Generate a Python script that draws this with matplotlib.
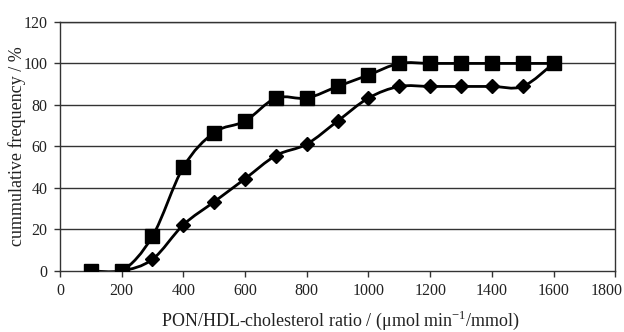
import numpy as np
import matplotlib.pyplot as plt
import matplotlib.transforms as mtransforms
from matplotlib.path import Path
from matplotlib.patches import PathPatch

plt.rcParams['font.family'] = ['Liberation Serif', 'DejaVu Serif']
plt.rcParams['mathtext.fontset'] = 'custom'
plt.rcParams['mathtext.rm'] = 'Liberation Serif'

ratio = [100, 200, 300, 400, 500, 600, 700, 800, 900, 1000, 1100, 1200, 1300, 1400, 1500, 1600]
freq_square = [0, 0, 16.7, 50, 66.7, 72.2, 83.3, 83.3, 88.9, 94.4, 100, 100, 100, 100, 100, 100]
freq_diamond = [0, 0, 5.6, 22.2, 33.3, 44.4, 55.6, 61.1, 72.2, 83.3, 88.9, 88.9, 88.9, 88.9, 88.9, 100]

xticks = np.arange(0, 1801, 200)
yticks = np.arange(0, 121, 20)


def smooth_path(x, y):
    # excel-like smoothed line: cubic bezier through the points
    p = np.column_stack([x, y]).astype(float)
    n = len(p)
    verts = [p[0]]
    codes = [Path.MOVETO]
    for i in range(n - 1):
        p0 = p[i - 1] if i > 0 else p[i]
        p3 = p[i + 2] if i + 2 < n else p[i + 1]
        c1 = p[i] + (p[i + 1] - p0) / 6.0
        c2 = p[i + 1] - (p3 - p[i]) / 6.0
        verts += [c1, c2, p[i + 1]]
        codes += [Path.CURVE4] * 3
    return Path(verts, codes)


fig = plt.figure(figsize=(6.24, 3.32), dpi=100)
ax = fig.add_axes([0.096, 0.184, 0.89, 0.75])

for yv in yticks[1:]:
    ax.axhline(yv, color='#333333', lw=1.0, zorder=1)

for fy, mk, ms in [(freq_square, 's', 10), (freq_diamond, 'D', 7.5)]:
    ax.add_patch(PathPatch(smooth_path(ratio, fy), fill=False, ec='black', lw=2.0, zorder=2))
    ax.plot(ratio, fy, ls='none', marker=mk, ms=ms, color='black', zorder=3)

ax.set_xlim(0, 1800)
ax.set_ylim(0, 120)
ax.set_xticks(xticks)
ax.set_yticks(yticks)
ax.tick_params(direction='out', length=4, width=1, labelsize=11.5, colors='#333333', labelcolor='#222222', pad=5)
for s in ax.spines.values():
    s.set_color('#333333')
    s.set_linewidth(1.0)

# last x label sits a bit inside the figure, like the original
last = ax.get_xticklabels()[-1]
last.set_transform(last.get_transform() + mtransforms.ScaledTranslation(-9 / 100, 0, fig.dpi_scale_trans))

ax.set_xlabel('PON/HDL-cholesterol ratio / (\u03bcmol min$^{-1}$/mmol)', fontsize=13, color='#222222')
ax.set_ylabel('cummulative frequency / %', fontsize=13, color='#222222')
ax.xaxis.set_label_coords(0.505, -0.2, transform=ax.transAxes)
ax.yaxis.set_label_coords(-0.078, 0.5, transform=ax.transAxes)
ax.xaxis.label.set_va('center')
ax.yaxis.label.set_va('center')

fig.savefig('out.png', dpi=100)
